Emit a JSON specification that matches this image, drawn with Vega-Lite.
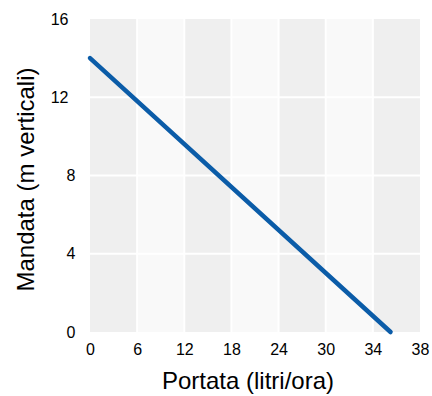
{
  "$schema": "https://vega.github.io/schema/vega-lite/v6.json",
  "width": 330,
  "height": 313,
  "autosize": {"type": "none"},
  "padding": {"left": 90, "top": 19, "right": 12, "bottom": 64},
  "background": "white",
  "config": {
    "view": {"stroke": null},
    "font": "Liberation Sans",
    "axis": {"labelFont": "Liberation Sans", "titleFont": "Liberation Sans", "labelColor": "#000", "titleColor": "#000"}
  },
  "datasets": {
    "bands": [
      {"da": 0, "a": 6, "tono": "scuro"},
      {"da": 6, "a": 12, "tono": "chiaro"},
      {"da": 12, "a": 18, "tono": "scuro"},
      {"da": 18, "a": 24, "tono": "chiaro"},
      {"da": 24, "a": 30, "tono": "scuro"},
      {"da": 30, "a": 34, "tono": "chiaro"},
      {"da": 34, "a": 38, "tono": "scuro"}
    ],
    "ygrid": [{"v": 4}, {"v": 8}, {"v": 12}],
    "xgrid": [{"v": 6}, {"v": 12}, {"v": 18}, {"v": 24}, {"v": 30}, {"v": 34}],
    "curva": [
      {"portata": 0, "mandata": 14},
      {"portata": 35.5, "mandata": 0}
    ]
  },
  "encoding": {},
  "layer": [
    {
      "data": {"name": "bands"},
      "mark": {"type": "rect"},
      "encoding": {
        "x": {
          "field": "da", "type": "quantitative",
          "scale": {"domain": [0, 30, 38], "range": [0, 235.714, 330], "nice": false, "zero": false},
          "axis": {
            "values": [0, 6, 12, 18, 24, 30, 34, 38],
            "grid": false, "domain": false, "ticks": false,
            "labelFontSize": 16, "labelPadding": 9, "labelFlush": false,
            "title": "Portata (litri/ora)", "titleFontSize": 24, "titleFontWeight": "normal", "titlePadding": 12,
            "titleX": 157.5
          }
        },
        "x2": {"field": "a"},
        "y": {"datum": 0, "type": "quantitative",
          "scale": {"domain": [0, 16], "nice": false, "zero": true},
          "axis": {
            "values": [0, 4, 8, 12, 16],
            "grid": false, "domain": false, "ticks": false,
            "labelFontSize": 16,
            "labelPadding": {"condition": {"test": "datum.value >= 10", "value": 22}, "value": 15},
            "labelFlush": false,
            "title": "Mandata (m verticali)", "titleFontSize": 24, "titleFontWeight": "normal", "titlePadding": 12,
            "titleY": 160
          }
        },
        "y2": {"datum": 16},
        "color": {
          "field": "tono", "type": "nominal",
          "scale": {"domain": ["scuro", "chiaro"], "range": ["#efefef", "#f9f9f9"]},
          "legend": null
        }
      }
    },
    {
      "data": {"name": "ygrid"},
      "mark": {"type": "rule", "color": "white", "strokeWidth": 2},
      "encoding": {"y": {"field": "v", "type": "quantitative"}}
    },
    {
      "data": {"name": "xgrid"},
      "mark": {"type": "rule", "color": "white", "strokeWidth": 2},
      "encoding": {"x": {"field": "v", "type": "quantitative"}}
    },
    {
      "data": {"name": "curva"},
      "mark": {"type": "line", "color": "#0b5ca8", "strokeWidth": 4.5, "strokeCap": "round"},
      "encoding": {
        "x": {"field": "portata", "type": "quantitative"},
        "y": {"field": "mandata", "type": "quantitative"}
      }
    }
  ]
}
